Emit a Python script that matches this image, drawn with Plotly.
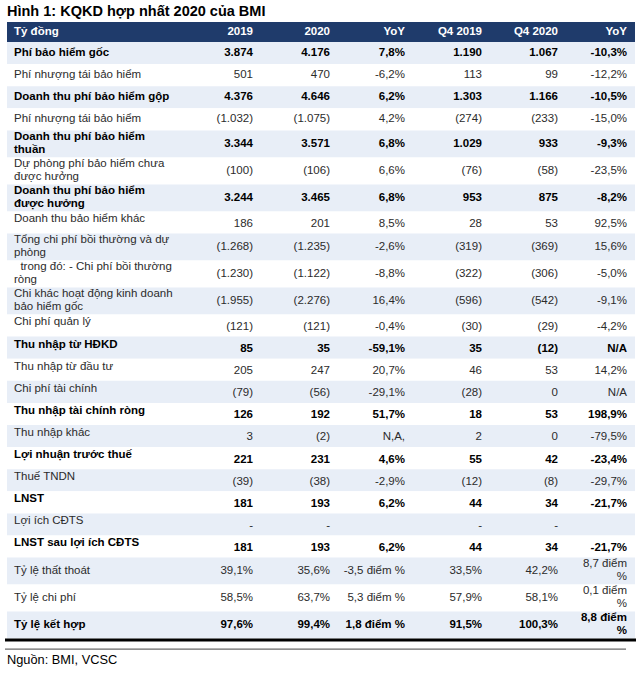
import plotly.graph_objects as go

title = "Hình 1: KQKD hợp nhất 2020 của BMI"
source = "Nguồn: BMI, VCSC"
headers = ["Tỷ đồng", "2019", "2020", "YoY", "Q4 2019", "Q4 2020", "YoY"]

labels = [
    "Phí bảo hiểm gốc",
    "Phí nhượng tái bảo hiểm",
    "Doanh thu phí bảo hiểm gộp",
    "Phí nhượng tái bảo hiểm",
    "Doanh thu phí bảo hiểm<br>thuần",
    "Dự phòng phí bảo hiểm chưa<br>được hưởng",
    "Doanh thu phí bảo hiểm<br>được hưởng",
    "Doanh thu bảo hiểm khác",
    "Tổng chi phí bồi thường và dự<br>phòng",
    "\u00a0\u00a0trong đó: - Chi phí bồi thường<br>ròng",
    "Chi khác hoạt động kinh doanh<br>bảo hiểm gốc",
    "Chi phí quản lý",
    "Thu nhập từ HĐKD",
    "Thu nhập từ đầu tư",
    "Chi phí tài chính",
    "Thu nhập tài chính ròng",
    "Thu nhập khác",
    "Lợi nhuận trước thuế",
    "Thuế TNDN",
    "LNST",
    "Lợi ích CĐTS",
    "LNST sau lợi ích CĐTS",
    "Tỷ lệ thất thoát",
    "Tỷ lệ chi phí",
    "Tỷ lệ kết hợp",
]
v2019 = ["3.874", "501", "4.376", "(1.032)", "3.344", "(100)", "3.244", "186", "(1.268)", "(1.230)",
         "(1.955)", "(121)", "85", "205", "(79)", "126", "3", "221", "(39)", "181", "-", "181",
         "39,1%", "58,5%", "97,6%"]
v2020 = ["4.176", "470", "4.646", "(1.075)", "3.571", "(106)", "3.465", "201", "(1.235)", "(1.122)",
         "(2.276)", "(121)", "35", "247", "(56)", "192", "(2)", "231", "(38)", "193", "-", "193",
         "35,6%", "63,7%", "99,4%"]
yoy = ["7,8%", "-6,2%", "6,2%", "4,2%", "6,8%", "6,6%", "6,8%", "8,5%", "-2,6%", "-8,8%",
       "16,4%", "-0,4%", "-59,1%", "20,7%", "-29,1%", "51,7%", "N,A,", "4,6%", "-2,9%", "6,2%", "", "6,2%",
       "-3,5 điểm %", "5,3 điểm %", "1,8 điểm %"]
q4_2019 = ["1.190", "113", "1.303", "(274)", "1.029", "(76)", "953", "28", "(319)", "(322)",
           "(596)", "(30)", "35", "46", "(28)", "18", "2", "55", "(12)", "44", "-", "44",
           "33,5%", "57,9%", "91,5%"]
q4_2020 = ["1.067", "99", "1.166", "(233)", "933", "(58)", "875", "53", "(369)", "(306)",
           "(542)", "(29)", "(12)", "53", "0", "53", "0", "42", "(8)", "34", "-", "34",
           "42,2%", "58,1%", "100,3%"]
q4_yoy = ["-10,3%", "-12,2%", "-10,5%", "-15,0%", "-9,3%", "-23,5%", "-8,2%", "92,5%", "15,6%", "-5,0%",
          "-9,1%", "-4,2%", "N/A", "14,2%", "N/A", "198,9%", "-79,5%", "-23,4%", "-29,7%", "-21,7%", "", "-21,7%",
          "8,7 điểm<br>%", "0,1 điểm<br>%", "8,8 điểm<br>%"]
bold_rows = [0, 2, 4, 6, 12, 15, 17, 19, 21, 24]

# ---- styles / layout constants ----
FONT = "Liberation Sans, Arial, sans-serif"
NAVY = "#1F3B6B"
SHADE = "#E8EEF7"
TEXT_DARK = "#000000"
TEXT_NORMAL = "#2b2b2b"
W, H = 640, 675
TABLE_LEFT, TABLE_RIGHT = 7, 635
TABLE_TOP = 22
HEADER_H = 20
ROW_H_SINGLE, ROW_H_DOUBLE = 22.1, 27
LINE_GAP = 13
LABEL_X = 14
NUM_RIGHT = [253, 330, 405, 482, 558, 627]
CELL_SIZE = 11.5

num_cols = [v2019, v2020, yoy, q4_2019, q4_2020, q4_yoy]
n = len(labels)

# row geometry derived from the number of text lines in each row
def nlines(s):
    return s.count("<br>") + 1

row_lines = [max(nlines(labels[i]), *(nlines(c[i]) for c in num_cols)) for i in range(n)]
row_h = [ROW_H_DOUBLE if k > 1 else ROW_H_SINGLE for k in row_lines]
row_top = []
y = TABLE_TOP + HEADER_H
for h in row_h:
    row_top.append(y)
    y += h
table_bottom = y
row_mid = [t + h / 2 for t, h in zip(row_top, row_h)]
# in the source, single-line rows from the middle section sit labels a bit higher than numbers
label_dy = [-3 if (row_lines[i] == 1 and 7 <= i <= 21) else 0 for i in range(n)]
num_dy = [1.5 if (row_lines[i] == 1 and 7 <= i <= 21) else 0 for i in range(n)]

fig = go.Figure()

# row shading + header band as horizontal bars
band_y = [TABLE_TOP + HEADER_H / 2] + row_mid
band_h = [HEADER_H] + row_h
band_c = [NAVY] + [SHADE if i % 2 == 0 else "white" for i in range(n)]
fig.add_trace(go.Bar(
    orientation="h", y=band_y, x=[TABLE_RIGHT - TABLE_LEFT] * len(band_y), base=TABLE_LEFT,
    width=band_h, marker=dict(color=band_c, line=dict(width=0)), hoverinfo="skip", showlegend=False,
))

def split_cells(values, xs, mids, dys, bold_flags, colors):
    tx, ty, tt, tc = [], [], [], []
    for v, x0, m, dy, b, col in zip(values, xs, mids, dys, bold_flags, colors):
        parts = v.split("<br>")
        k = len(parts)
        for j, p in enumerate(parts):
            tx.append(x0)
            ty.append(m + dy + (j - (k - 1) / 2) * LINE_GAP)
            tt.append(f"<b>{p}</b>" if b else p)
            tc.append(col)
    return tx, ty, tt, tc

bold_flags = [i in bold_rows for i in range(n)]
colors = [TEXT_DARK if b else TEXT_NORMAL for b in bold_flags]

# labels
lx, ly, lt, lc = split_cells(labels, [LABEL_X] * n, row_mid, label_dy, bold_flags, colors)
fig.add_trace(go.Scatter(x=lx, y=ly, text=lt, mode="text", textposition="middle right",
                         textfont=dict(family=FONT, size=CELL_SIZE, color=lc),
                         hoverinfo="skip", showlegend=False, cliponaxis=False))

# numeric columns
nx, ny, nt, nc = [], [], [], []
for col, xr in zip(num_cols, NUM_RIGHT):
    a, b_, c_, d_ = split_cells(col, [xr] * n, row_mid, num_dy, bold_flags, colors)
    nx += a; ny += b_; nt += c_; nc += d_
fig.add_trace(go.Scatter(x=nx, y=ny, text=nt, mode="text", textposition="middle left",
                         textfont=dict(family=FONT, size=CELL_SIZE, color=nc),
                         hoverinfo="skip", showlegend=False, cliponaxis=False))

# header texts
hy = TABLE_TOP + HEADER_H / 2
fig.add_trace(go.Scatter(x=[LABEL_X], y=[hy], text=[f"<b>{headers[0]}</b>"], mode="text",
                         textposition="middle right",
                         textfont=dict(family=FONT, size=CELL_SIZE, color="white"),
                         hoverinfo="skip", showlegend=False, cliponaxis=False))
fig.add_trace(go.Scatter(x=NUM_RIGHT, y=[hy] * 6, text=[f"<b>{h}</b>" for h in headers[1:]], mode="text",
                         textposition="middle left",
                         textfont=dict(family=FONT, size=CELL_SIZE, color="white"),
                         hoverinfo="skip", showlegend=False, cliponaxis=False))

# closing rules under the table
fig.add_shape(type="line", xref="x", yref="y", x0=TABLE_LEFT - 2, x1=TABLE_RIGHT + 1,
              y0=table_bottom + 1.5, y1=table_bottom + 1.5, line=dict(color="black", width=3))
fig.add_shape(type="line", xref="x", yref="y", x0=TABLE_LEFT - 2, x1=626,
              y0=table_bottom + 10.5, y1=table_bottom + 10.5, line=dict(color="#444", width=1))

fig.add_annotation(text=f"<b>{title}</b>", xref="x", yref="y", x=5, y=11,
                   xanchor="left", yanchor="middle", showarrow=False,
                   font=dict(family=FONT, size=14.5, color="black"))
fig.add_annotation(text=source, xref="x", yref="y", x=5, y=table_bottom + 21,
                   xanchor="left", yanchor="middle", showarrow=False,
                   font=dict(family=FONT, size=12.8, color="black"))

fig.update_xaxes(range=[0, W], visible=False, fixedrange=True)
fig.update_yaxes(range=[H, 0], visible=False, fixedrange=True)
fig.update_layout(width=W, height=H, margin=dict(l=0, r=0, t=0, b=0),
                  paper_bgcolor="white", plot_bgcolor="white", barmode="overlay")
fig.write_html("out.html", config={"displayModeBar": False},
               post_script="document.body.style.margin='0';")
